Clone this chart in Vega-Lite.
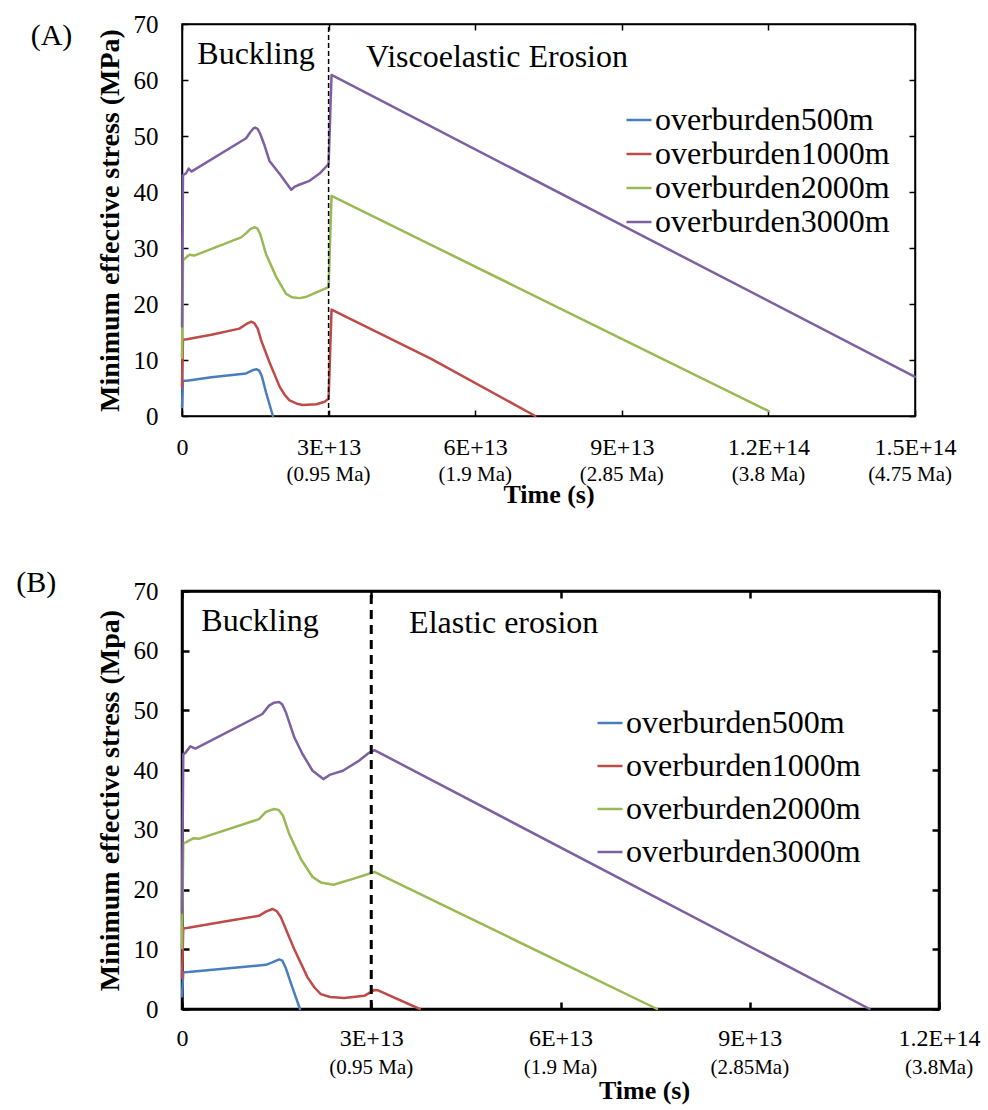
{
  "$schema": "https://vega.github.io/schema/vega-lite/v6.json",
  "background": "white",
  "padding": {"left": 15, "top": 11, "right": 5, "bottom": 3},
  "spacing": 58,
  "resolve": {"scale": {"color": "independent"}, "legend": {"color": "independent"}},
  "config": {
    "font": "Liberation Serif",
    "axis": {"labelFont": "Liberation Serif", "titleFont": "Liberation Serif", "labelColor": "black", "titleColor": "black", "domainColor": "black", "tickColor": "black", "grid": false, "labelOverlap": false, "labelFlush": false},
    "view": {"stroke": "black"},
    "text": {"font": "Liberation Serif", "color": "black"},
    "line": {"strokeJoin": "round", "strokeCap": "round"}
  },
  "datasets": {
    "curvesA": [
      {"s": "overburden500m", "t": 0, "v": 1.6},
      {"s": "overburden500m", "t": 200000000000, "v": 6.3},
      {"s": "overburden500m", "t": 1000000000000, "v": 6.3},
      {"s": "overburden500m", "t": 6000000000000, "v": 6.9},
      {"s": "overburden500m", "t": 13100000000000, "v": 7.6},
      {"s": "overburden500m", "t": 14500000000000, "v": 8.2},
      {"s": "overburden500m", "t": 15300000000000, "v": 8.35},
      {"s": "overburden500m", "t": 15800000000000, "v": 8.1},
      {"s": "overburden500m", "t": 16300000000000, "v": 7.2},
      {"s": "overburden500m", "t": 17200000000000, "v": 4.2},
      {"s": "overburden500m", "t": 18600000000000, "v": 0},
      {"s": "overburden1000m", "t": 0, "v": 5.2},
      {"s": "overburden1000m", "t": 200000000000, "v": 13.6},
      {"s": "overburden1000m", "t": 1000000000000, "v": 13.7},
      {"s": "overburden1000m", "t": 6000000000000, "v": 14.5},
      {"s": "overburden1000m", "t": 11750000000000, "v": 15.6},
      {"s": "overburden1000m", "t": 13100000000000, "v": 16.4},
      {"s": "overburden1000m", "t": 14150000000000, "v": 16.85},
      {"s": "overburden1000m", "t": 14800000000000, "v": 16.6},
      {"s": "overburden1000m", "t": 15500000000000, "v": 15.6},
      {"s": "overburden1000m", "t": 16200000000000, "v": 13.5},
      {"s": "overburden1000m", "t": 17900000000000, "v": 9.6},
      {"s": "overburden1000m", "t": 20000000000000, "v": 5.2},
      {"s": "overburden1000m", "t": 21000000000000, "v": 3.8},
      {"s": "overburden1000m", "t": 22000000000000, "v": 2.8},
      {"s": "overburden1000m", "t": 23500000000000, "v": 2.2},
      {"s": "overburden1000m", "t": 24700000000000, "v": 1.96},
      {"s": "overburden1000m", "t": 27500000000000, "v": 2.1},
      {"s": "overburden1000m", "t": 29200000000000, "v": 2.55},
      {"s": "overburden1000m", "t": 30000000000000, "v": 3.1},
      {"s": "overburden1000m", "t": 30600000000000, "v": 19.0},
      {"s": "overburden1000m", "t": 51000000000000, "v": 10.2},
      {"s": "overburden1000m", "t": 72300000000000, "v": 0},
      {"s": "overburden2000m", "t": 0, "v": 10.4},
      {"s": "overburden2000m", "t": 200000000000, "v": 27.8},
      {"s": "overburden2000m", "t": 500000000000, "v": 28.05},
      {"s": "overburden2000m", "t": 1500000000000, "v": 28.8},
      {"s": "overburden2000m", "t": 2500000000000, "v": 28.65},
      {"s": "overburden2000m", "t": 12100000000000, "v": 31.9},
      {"s": "overburden2000m", "t": 13200000000000, "v": 32.7},
      {"s": "overburden2000m", "t": 14000000000000, "v": 33.4},
      {"s": "overburden2000m", "t": 14800000000000, "v": 33.7},
      {"s": "overburden2000m", "t": 15400000000000, "v": 33.5},
      {"s": "overburden2000m", "t": 16000000000000, "v": 32.5},
      {"s": "overburden2000m", "t": 17200000000000, "v": 28.9},
      {"s": "overburden2000m", "t": 19300000000000, "v": 24.8},
      {"s": "overburden2000m", "t": 21300000000000, "v": 21.8},
      {"s": "overburden2000m", "t": 22500000000000, "v": 21.2},
      {"s": "overburden2000m", "t": 24050000000000, "v": 21.05},
      {"s": "overburden2000m", "t": 25500000000000, "v": 21.3},
      {"s": "overburden2000m", "t": 26800000000000, "v": 21.8},
      {"s": "overburden2000m", "t": 30000000000000, "v": 23.0},
      {"s": "overburden2000m", "t": 30600000000000, "v": 39.3},
      {"s": "overburden2000m", "t": 120000000000000, "v": 0.9},
      {"s": "overburden3000m", "t": 0, "v": 16},
      {"s": "overburden3000m", "t": 200000000000, "v": 43.0},
      {"s": "overburden3000m", "t": 800000000000, "v": 43.3},
      {"s": "overburden3000m", "t": 1370000000000, "v": 44.2},
      {"s": "overburden3000m", "t": 1910000000000, "v": 43.65},
      {"s": "overburden3000m", "t": 13120000000000, "v": 49.6},
      {"s": "overburden3000m", "t": 14000000000000, "v": 50.7},
      {"s": "overburden3000m", "t": 14600000000000, "v": 51.35},
      {"s": "overburden3000m", "t": 15000000000000, "v": 51.5},
      {"s": "overburden3000m", "t": 15500000000000, "v": 51.25},
      {"s": "overburden3000m", "t": 16000000000000, "v": 50.4},
      {"s": "overburden3000m", "t": 16900000000000, "v": 48.3},
      {"s": "overburden3000m", "t": 17900000000000, "v": 45.55},
      {"s": "overburden3000m", "t": 20000000000000, "v": 43.2},
      {"s": "overburden3000m", "t": 22350000000000, "v": 40.4},
      {"s": "overburden3000m", "t": 23000000000000, "v": 40.9},
      {"s": "overburden3000m", "t": 23700000000000, "v": 41.2},
      {"s": "overburden3000m", "t": 26100000000000, "v": 42.0},
      {"s": "overburden3000m", "t": 28150000000000, "v": 43.3},
      {"s": "overburden3000m", "t": 30000000000000, "v": 45.0},
      {"s": "overburden3000m", "t": 30600000000000, "v": 60.9},
      {"s": "overburden3000m", "t": 150000000000000, "v": 7.0}
    ],
    "curvesB": [
      {"s": "overburden500m", "t": 0, "v": 2.1},
      {"s": "overburden500m", "t": 200000000000, "v": 6.15},
      {"s": "overburden500m", "t": 1000000000000, "v": 6.2},
      {"s": "overburden500m", "t": 7000000000000, "v": 6.8},
      {"s": "overburden500m", "t": 13300000000000, "v": 7.4},
      {"s": "overburden500m", "t": 14300000000000, "v": 7.8},
      {"s": "overburden500m", "t": 15400000000000, "v": 8.3},
      {"s": "overburden500m", "t": 15900000000000, "v": 8.1},
      {"s": "overburden500m", "t": 16400000000000, "v": 7.0},
      {"s": "overburden500m", "t": 17300000000000, "v": 4.2},
      {"s": "overburden500m", "t": 18700000000000, "v": 0},
      {"s": "overburden1000m", "t": 0, "v": 5.2},
      {"s": "overburden1000m", "t": 200000000000, "v": 13.5},
      {"s": "overburden1000m", "t": 1000000000000, "v": 13.6},
      {"s": "overburden1000m", "t": 7000000000000, "v": 14.7},
      {"s": "overburden1000m", "t": 12200000000000, "v": 15.6},
      {"s": "overburden1000m", "t": 13300000000000, "v": 16.3},
      {"s": "overburden1000m", "t": 14340000000000, "v": 16.75},
      {"s": "overburden1000m", "t": 15000000000000, "v": 16.4},
      {"s": "overburden1000m", "t": 15660000000000, "v": 15.4},
      {"s": "overburden1000m", "t": 17000000000000, "v": 12.0},
      {"s": "overburden1000m", "t": 17800000000000, "v": 10.0},
      {"s": "overburden1000m", "t": 19900000000000, "v": 5.3},
      {"s": "overburden1000m", "t": 21000000000000, "v": 3.6},
      {"s": "overburden1000m", "t": 22000000000000, "v": 2.5},
      {"s": "overburden1000m", "t": 23500000000000, "v": 2.0},
      {"s": "overburden1000m", "t": 25700000000000, "v": 1.85},
      {"s": "overburden1000m", "t": 28900000000000, "v": 2.2},
      {"s": "overburden1000m", "t": 30500000000000, "v": 3.2},
      {"s": "overburden1000m", "t": 31000000000000, "v": 3.15},
      {"s": "overburden1000m", "t": 37700000000000, "v": 0},
      {"s": "overburden2000m", "t": 0, "v": 10.2},
      {"s": "overburden2000m", "t": 200000000000, "v": 27.8},
      {"s": "overburden2000m", "t": 600000000000, "v": 27.9},
      {"s": "overburden2000m", "t": 1860000000000, "v": 28.6},
      {"s": "overburden2000m", "t": 2650000000000, "v": 28.5},
      {"s": "overburden2000m", "t": 12200000000000, "v": 31.8},
      {"s": "overburden2000m", "t": 13300000000000, "v": 33.0},
      {"s": "overburden2000m", "t": 14600000000000, "v": 33.5},
      {"s": "overburden2000m", "t": 15300000000000, "v": 33.35},
      {"s": "overburden2000m", "t": 16000000000000, "v": 32.4},
      {"s": "overburden2000m", "t": 17000000000000, "v": 29.3},
      {"s": "overburden2000m", "t": 18850000000000, "v": 25.1},
      {"s": "overburden2000m", "t": 20700000000000, "v": 22.1},
      {"s": "overburden2000m", "t": 22000000000000, "v": 21.2},
      {"s": "overburden2000m", "t": 24000000000000, "v": 20.8},
      {"s": "overburden2000m", "t": 27100000000000, "v": 21.8},
      {"s": "overburden2000m", "t": 30500000000000, "v": 22.95},
      {"s": "overburden2000m", "t": 75300000000000, "v": 0},
      {"s": "overburden3000m", "t": 0, "v": 16.1},
      {"s": "overburden3000m", "t": 200000000000, "v": 42.7},
      {"s": "overburden3000m", "t": 500000000000, "v": 42.85},
      {"s": "overburden3000m", "t": 1330000000000, "v": 44.0},
      {"s": "overburden3000m", "t": 2120000000000, "v": 43.6},
      {"s": "overburden3000m", "t": 12740000000000, "v": 49.4},
      {"s": "overburden3000m", "t": 13800000000000, "v": 50.8},
      {"s": "overburden3000m", "t": 14600000000000, "v": 51.3},
      {"s": "overburden3000m", "t": 15400000000000, "v": 51.4},
      {"s": "overburden3000m", "t": 15900000000000, "v": 51.0},
      {"s": "overburden3000m", "t": 16500000000000, "v": 49.6},
      {"s": "overburden3000m", "t": 17800000000000, "v": 45.5},
      {"s": "overburden3000m", "t": 19100000000000, "v": 42.7},
      {"s": "overburden3000m", "t": 20700000000000, "v": 39.9},
      {"s": "overburden3000m", "t": 22400000000000, "v": 38.5},
      {"s": "overburden3000m", "t": 23400000000000, "v": 39.2},
      {"s": "overburden3000m", "t": 25500000000000, "v": 39.9},
      {"s": "overburden3000m", "t": 28100000000000, "v": 41.6},
      {"s": "overburden3000m", "t": 29500000000000, "v": 42.8},
      {"s": "overburden3000m", "t": 30500000000000, "v": 43.35},
      {"s": "overburden3000m", "t": 109000000000000, "v": 0}
    ],
    "phasesA": [
      {"t": 15140000000000, "v": 64.6, "label": "Buckling"},
      {"t": 64460000000000, "v": 64.1, "label": "Viscoelastic Erosion"}
    ],
    "phasesB": [
      {"t": 12360000000000, "v": 65.0, "label": "Buckling"},
      {"t": 51000000000000, "v": 64.7, "label": "Elastic erosion"}
    ],
    "panelA": [{"t": -26700000000000, "v": 67.9, "label": "(A)"}],
    "panelB": [{"t": -23100000000000, "v": 71.4, "label": "(B)"}],
    "notesA": [
      {"t": 30000000000000, "note": "(0.95 Ma)"},
      {"t": 60000000000000, "note": "(1.9 Ma)"},
      {"t": 90000000000000, "note": "(2.85 Ma)"},
      {"t": 120000000000000, "note": "(3.8 Ma)"},
      {"t": 149000000000000, "note": "(4.75 Ma)"}
    ],
    "notesB": [
      {"t": 30000000000000, "note": "(0.95 Ma)"},
      {"t": 60000000000000, "note": "(1.9 Ma)"},
      {"t": 90000000000000, "note": "(2.85Ma)"},
      {"t": 120000000000000, "note": "(3.8Ma)"}
    ],
    "boundary": [{"t": 30000000000000}]
  },
  "vconcat": [
    {
      "width": 733,
      "height": 392,
      "view": {"stroke": "black", "strokeWidth": 1.5},
      "resolve": {"axis": {"x": "independent", "y": "independent"}},
      "layer": [
        {
          "data": {"name": "curvesA"},
          "mark": {"type": "line", "strokeWidth": 2.5, "interpolate": "linear"},
          "encoding": {
            "x": {"field": "t", "type": "quantitative", "scale": {"domain": [0, 150000000000000], "nice": false, "zero": false},
              "axis": {"orient": "bottom", "title": "Time (s)", "titleFontSize": 26, "titleFontWeight": "bold", "titlePadding": 22,
                "values": [0, 30000000000000, 60000000000000, 90000000000000, 120000000000000, 150000000000000],
                "labelExpr": "datum.value == 0 ? '0' : upper(format(datum.value, '.2~e'))",
                "labelFontSize": 24, "labelPadding": 25, "tickSize": -6, "tickWidth": 1.5, "domainWidth": 1.5}},
            "y": {"field": "v", "type": "quantitative", "scale": {"domain": [0, 70], "nice": false},
              "axis": {"orient": "left", "title": "Minimum effective stress (MPa)", "titleFontSize": 28, "titleFontWeight": "bold", "titlePadding": 9,
                "values": [0, 10, 20, 30, 40, 50, 60, 70], "labelFontSize": 25, "labelPadding": 30, "tickSize": -6, "tickWidth": 1.5, "domainWidth": 1.5}},
            "color": {"field": "s", "type": "nominal",
              "scale": {"domain": ["overburden500m", "overburden1000m", "overburden2000m", "overburden3000m"], "range": ["#4A7EBB", "#BE4B48", "#98B954", "#7D60A0"]},
              "legend": {"title": null, "orient": "none", "legendX": 441, "legendY": 80, "symbolType": "stroke", "symbolSize": 625, "symbolStrokeWidth": 2.5,
                "labelFontSize": 32, "labelFont": "Liberation Serif", "labelColor": "black", "labelOffset": 0, "rowPadding": 2, "padding": 0, "labelLimit": 500}}
          }
        },
        {
          "data": {"name": "boundary"},
          "mark": {"type": "rule", "strokeDash": [5, 3], "strokeWidth": 1.5, "color": "black"},
          "encoding": {
            "x": {"field": "t", "type": "quantitative",
              "axis": {"orient": "top", "title": null, "labels": false, "values": [0, 30000000000000, 60000000000000, 90000000000000, 120000000000000, 150000000000000], "tickSize": -6, "tickWidth": 1.5, "domainWidth": 1.5}},
            "y": {"datum": 0, "axis": {"orient": "right", "title": null, "labels": false, "values": [0, 10, 20, 30, 40, 50, 60, 70], "tickSize": -6, "tickWidth": 1.5, "domainWidth": 1.5}},
            "y2": {"datum": 70}
          }
        },
        {
          "data": {"name": "phasesA"},
          "mark": {"type": "text", "fontSize": 32, "align": "center", "baseline": "middle", "clip": false},
          "encoding": {
            "x": {"field": "t", "type": "quantitative", "axis": null},
            "y": {"field": "v", "type": "quantitative", "axis": null},
            "text": {"field": "label"}
          }
        },
        {
          "data": {"name": "panelA"},
          "mark": {"type": "text", "fontSize": 30, "align": "center", "baseline": "middle", "clip": false},
          "encoding": {
            "x": {"field": "t", "type": "quantitative", "axis": null},
            "y": {"field": "v", "type": "quantitative", "axis": null},
            "text": {"field": "label"}
          }
        },
        {
          "data": {"name": "notesA"},
          "mark": {"type": "text", "fontSize": 21, "align": "center", "baseline": "middle", "clip": false},
          "encoding": {
            "x": {"field": "t", "type": "quantitative", "axis": null},
            "y": {"datum": -10.6, "axis": null},
            "text": {"field": "note"}
          }
        }
      ]
    },
    {
      "width": 757,
      "height": 418,
      "view": {"stroke": "black", "strokeWidth": 2.5},
      "resolve": {"axis": {"x": "independent", "y": "independent"}},
      "layer": [
        {
          "data": {"name": "curvesB"},
          "mark": {"type": "line", "strokeWidth": 2.5, "interpolate": "linear"},
          "encoding": {
            "x": {"field": "t", "type": "quantitative", "scale": {"domain": [0, 120000000000000], "nice": false, "zero": false},
              "axis": {"orient": "bottom", "title": "Time (s)", "titleFontSize": 26, "titleFontWeight": "bold", "titlePadding": 27, "titleX": 462,
                "values": [0, 30000000000000, 60000000000000, 90000000000000, 120000000000000],
                "labelExpr": "datum.value == 0 ? '0' : upper(format(datum.value, '.2~e'))",
                "labelFontSize": 24, "labelPadding": 24, "tickSize": -7, "tickWidth": 2.5, "domainWidth": 2.5}},
            "y": {"field": "v", "type": "quantitative", "scale": {"domain": [0, 70], "nice": false},
              "axis": {"orient": "left", "title": "Minimum effective stress (Mpa)", "titleFontSize": 28, "titleFontWeight": "bold", "titlePadding": 9,
                "values": [0, 10, 20, 30, 40, 50, 60, 70], "labelFontSize": 25, "labelPadding": 31, "tickSize": -7, "tickWidth": 2.5, "domainWidth": 2.5}},
            "color": {"field": "s", "type": "nominal",
              "scale": {"domain": ["overburden500m", "overburden1000m", "overburden2000m", "overburden3000m"], "range": ["#4A7EBB", "#BE4B48", "#98B954", "#7D60A0"]},
              "legend": {"title": null, "orient": "none", "legendX": 412, "legendY": 116, "symbolType": "stroke", "symbolSize": 625, "symbolStrokeWidth": 2.5,
                "labelFontSize": 32, "labelFont": "Liberation Serif", "labelColor": "black", "labelOffset": 0, "rowPadding": 11, "padding": 0, "labelLimit": 500}}
          }
        },
        {
          "data": {"name": "boundary"},
          "mark": {"type": "rule", "strokeDash": [9, 6], "strokeWidth": 3, "color": "black"},
          "encoding": {
            "x": {"field": "t", "type": "quantitative",
              "axis": {"orient": "top", "title": null, "labels": false, "values": [0, 30000000000000, 60000000000000, 90000000000000, 120000000000000], "tickSize": -7, "tickWidth": 2.5, "domainWidth": 2.5}},
            "y": {"datum": 0, "axis": {"orient": "right", "title": null, "labels": false, "values": [0, 10, 20, 30, 40, 50, 60, 70], "tickSize": -7, "tickWidth": 2.5, "domainWidth": 2.5}},
            "y2": {"datum": 70}
          }
        },
        {
          "data": {"name": "phasesB"},
          "mark": {"type": "text", "fontSize": 32, "align": "center", "baseline": "middle", "clip": false},
          "encoding": {
            "x": {"field": "t", "type": "quantitative", "axis": null},
            "y": {"field": "v", "type": "quantitative", "axis": null},
            "text": {"field": "label"}
          }
        },
        {
          "data": {"name": "panelB"},
          "mark": {"type": "text", "fontSize": 30, "align": "center", "baseline": "middle", "clip": false},
          "encoding": {
            "x": {"field": "t", "type": "quantitative", "axis": null},
            "y": {"field": "v", "type": "quantitative", "axis": null},
            "text": {"field": "label"}
          }
        },
        {
          "data": {"name": "notesB"},
          "mark": {"type": "text", "fontSize": 21, "align": "center", "baseline": "middle", "clip": false},
          "encoding": {
            "x": {"field": "t", "type": "quantitative", "axis": null},
            "y": {"datum": -9.8, "axis": null},
            "text": {"field": "note"}
          }
        }
      ]
    }
  ]
}
